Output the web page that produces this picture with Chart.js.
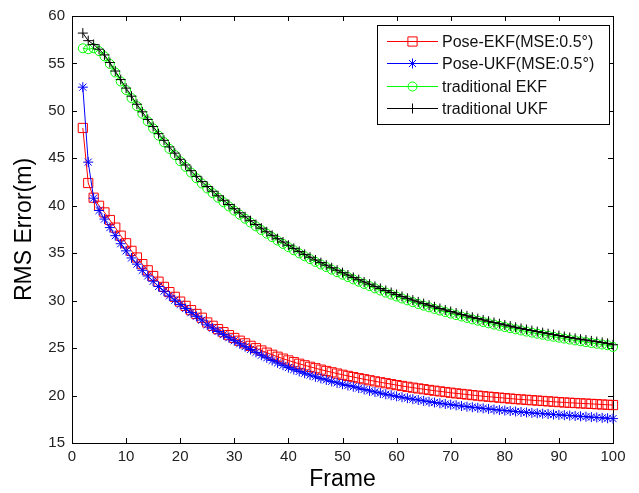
<!DOCTYPE html>
<html>
<head>
<meta charset="utf-8">
<script src="https://cdn.jsdelivr.net/npm/chart.js@4/dist/chart.umd.min.js"></script>
<style>
   html, body { margin: 0; padding: 0; background: #fff; }
   #wrap { width: 639px; height: 493px; }
</style>
</head>
<body>
<div id="wrap"><canvas id="myChart" width="639" height="493"></canvas></div>
<script>
"use strict";

// frame numbers (x) for every series
const frames = [
   2, 3, 4, 5, 6, 7, 8, 9, 10, 11, 12, 13, 14, 15, 16, 17, 18, 19, 20, 21,
   22, 23, 24, 25, 26, 27, 28, 29, 30, 31, 32, 33, 34, 35, 36, 37, 38, 39, 40, 41,
   42, 43, 44, 45, 46, 47, 48, 49, 50, 51, 52, 53, 54, 55, 56, 57, 58, 59, 60, 61,
   62, 63, 64, 65, 66, 67, 68, 69, 70, 71, 72, 73, 74, 75, 76, 77, 78, 79, 80, 81,
   82, 83, 84, 85, 86, 87, 88, 89, 90, 91, 92, 93, 94, 95, 96, 97, 98, 99, 100,
];

const poseEKF = [
   48.2, 42.4, 40.85, 40.0, 39.3, 38.5, 37.7, 36.85, 36.05, 35.25, 34.55, 33.85, 33.2, 32.6, 32.0, 31.45, 30.9, 30.4, 29.9, 29.45,
   29.0, 28.6, 28.2, 27.7, 27.35, 27.0, 26.68, 26.37, 26.07, 25.78, 25.5, 25.24, 24.99, 24.75, 24.52, 24.3, 24.09, 23.89, 23.7, 23.52,
   23.35, 23.19, 23.03, 22.88, 22.73, 22.59, 22.45, 22.32, 22.19, 22.07, 21.95, 21.83, 21.72, 21.61, 21.5, 21.4, 21.3, 21.2, 21.1, 21.01,
   20.92, 20.83, 20.75, 20.67, 20.59, 20.51, 20.44, 20.37, 20.3, 20.23, 20.17, 20.11, 20.05, 19.99, 19.93, 19.88, 19.83, 19.78, 19.73, 19.68,
   19.63, 19.59, 19.55, 19.51, 19.47, 19.43, 19.39, 19.35, 19.31, 19.27, 19.24, 19.21, 19.18, 19.15, 19.12, 19.09, 19.06, 19.03, 19.0,
];

const poseUKF = [
   52.5, 44.6, 40.8, 39.5, 38.6, 37.7, 36.85, 36.0, 35.25, 34.5, 33.85, 33.2, 32.6, 32.05, 31.5, 31.0, 30.5, 30.05, 29.6, 29.17,
   28.74, 28.35, 27.95, 27.45, 27.1, 26.75, 26.42, 26.1, 25.78, 25.46, 25.15, 24.85, 24.55, 24.25, 23.97, 23.7, 23.44, 23.19, 22.95, 22.74,
   22.54, 22.35, 22.16, 21.98, 21.81, 21.65, 21.49, 21.34, 21.19, 21.06, 20.93, 20.79, 20.64, 20.5, 20.38, 20.26, 20.14, 20.03, 19.92, 19.82,
   19.72, 19.62, 19.53, 19.44, 19.35, 19.27, 19.19, 19.11, 19.04, 18.97, 18.9, 18.83, 18.77, 18.71, 18.65, 18.59, 18.53, 18.47, 18.42, 18.37,
   18.32, 18.27, 18.22, 18.17, 18.13, 18.09, 18.05, 18.01, 17.97, 17.93, 17.89, 17.85, 17.81, 17.77, 17.73, 17.69, 17.65, 17.61, 17.57,
];

const tradEKF = [
   56.6, 56.5, 56.6, 56.3, 55.75, 54.95, 54.05, 53.1, 52.2, 51.35, 50.5, 49.7, 48.9, 48.15, 47.4, 46.7, 46.0, 45.35, 44.7, 44.1,
   43.5, 42.9, 42.35, 41.83, 41.33, 40.85, 40.38, 39.93, 39.49, 39.06, 38.64, 38.23, 37.83, 37.44, 37.06, 36.69, 36.33, 35.98, 35.64, 35.31,
   34.99, 34.68, 34.38, 34.09, 33.81, 33.54, 33.27, 33.0, 32.74, 32.49, 32.24, 32.0, 31.76, 31.53, 31.3, 31.07, 30.85, 30.64, 30.43, 30.23,
   30.03, 29.84, 29.65, 29.47, 29.3, 29.13, 28.96, 28.8, 28.64, 28.48, 28.33, 28.18, 28.03, 27.89, 27.75, 27.61, 27.48, 27.35, 27.22, 27.1,
   26.98, 26.86, 26.74, 26.63, 26.52, 26.41, 26.3, 26.2, 26.1, 26.0, 25.9, 25.81, 25.72, 25.63, 25.54, 25.46, 25.38, 25.3, 25.12,
];

const tradUKF = [
   58.2, 57.4, 57.0, 56.5, 55.9, 55.1, 54.2, 53.3, 52.4, 51.55, 50.7, 49.9, 49.1, 48.35, 47.6, 46.9, 46.2, 45.55, 44.9, 44.3,
   43.7, 43.1, 42.55, 42.03, 41.53, 41.05, 40.58, 40.13, 39.69, 39.26, 38.84, 38.43, 38.03, 37.64, 37.26, 36.89, 36.53, 36.18, 35.84, 35.51,
   35.19, 34.88, 34.58, 34.29, 34.01, 33.74, 33.47, 33.21, 32.95, 32.7, 32.45, 32.21, 31.97, 31.74, 31.51, 31.29, 31.07, 30.86, 30.65, 30.45,
   30.25, 30.06, 29.87, 29.69, 29.52, 29.35, 29.18, 29.02, 28.86, 28.7, 28.55, 28.4, 28.25, 28.11, 27.97, 27.83, 27.7, 27.57, 27.44, 27.32,
   27.2, 27.08, 26.96, 26.85, 26.74, 26.63, 26.52, 26.42, 26.32, 26.22, 26.12, 26.03, 25.94, 25.85, 25.76, 25.68, 25.6, 25.5, 25.35,
];

const seriesNames = [
   "Pose-EKF(MSE:0.5°)",
   "Pose-UKF(MSE:0.5°)",
   "traditional EKF",
   "traditional UKF",
];

const FONT = "'Liberation Sans', Arial, sans-serif";

const toPoints = function (values) {
   return values.map((v, i) => ({ x: frames[i], y: v }));
};

const makeSet = function (label, values, color, style, radius, order) {
   return {
      label: label,
      data: toPoints(values),
      borderColor: color,
      borderWidth: 1,
      backgroundColor: "rgba(0,0,0,0)",
      pointStyle: style,
      pointRadius: radius,
      pointBorderColor: color,
      pointBackgroundColor: "rgba(0,0,0,0)",
      pointBorderWidth: 1,
      tension: 0,
      clip: false,
      order: order,
   };
};

// axes box with inward ticks on all four sides, matlab style
const axesBox = {
   id: "axesBox",
   beforeDatasetsDraw(chart) {
      const { ctx, chartArea: a, scales } = chart;
      const tl = 5;
      ctx.save();
      ctx.strokeStyle = "#000";
      ctx.lineWidth = 1;
      ctx.beginPath();
      scales.x.ticks.forEach((t) => {
         const px = Math.round(scales.x.getPixelForValue(t.value)) + 0.5;
         ctx.moveTo(px, a.bottom);
         ctx.lineTo(px, a.bottom - tl);
         ctx.moveTo(px, a.top);
         ctx.lineTo(px, a.top + tl);
      });
      scales.y.ticks.forEach((t) => {
         const py = Math.round(scales.y.getPixelForValue(t.value)) + 0.5;
         ctx.moveTo(a.left, py);
         ctx.lineTo(a.left + tl, py);
         ctx.moveTo(a.right, py);
         ctx.lineTo(a.right - tl, py);
      });
      ctx.stroke();
      ctx.strokeRect(a.left + 0.5, a.top + 0.5, a.right - a.left, a.bottom - a.top);
      ctx.restore();
   },
   afterDatasetsDraw(chart) {
      // legend box in the upper right corner
      const { ctx, chartArea: a } = chart;
      const bx = a.left + 305;
      const by = a.top + 9;
      const bw = 232;
      const bh = 99;
      const rowH = 22.4;
      ctx.save();
      ctx.fillStyle = "#fff";
      ctx.fillRect(bx, by, bw, bh);
      ctx.strokeStyle = "#000";
      ctx.lineWidth = 1;
      ctx.strokeRect(bx + 0.5, by + 0.5, bw, bh);
      ctx.font = "16px " + FONT;
      ctx.textBaseline = "middle";
      chart.data.datasets.forEach((ds, i) => {
         const cy = Math.round(by + 16 + i * rowH) + 0.5;
         ctx.strokeStyle = ds.borderColor;
         ctx.beginPath();
         ctx.moveTo(bx + 10, cy);
         ctx.lineTo(bx + 61, cy);
         ctx.stroke();
         ctx.fillStyle = "rgba(0,0,0,0)";
         Chart.helpers.drawPoint(ctx, {
            pointStyle: ds.pointStyle,
            radius: ds.pointRadius,
            borderWidth: 1,
            rotation: 0,
         }, bx + 35.5, cy);
         ctx.fillStyle = "#111";
         ctx.fillText(ds.label, bx + 65, cy + 1);
      });
      ctx.restore();
   },
};

const ctx = document.getElementById("myChart").getContext("2d");
const myChart = new Chart(ctx, {
   type: "line",
   data: {
      datasets: [
         makeSet(seriesNames[0], poseEKF, "#ff0000", "rect", 6.5, 4),
         makeSet(seriesNames[1], poseUKF, "#0000ff", "star", 5, 3),
         makeSet(seriesNames[2], tradEKF, "#00ff00", "circle", 4.5, 2),
         makeSet(seriesNames[3], tradUKF, "#000000", "cross", 5, 1),
      ],
   },
   options: {
      responsive: false,
      animation: false,
      devicePixelRatio: 1,
      layout: {
         padding: { top: 16, right: 26, left: 0, bottom: 0 },
      },
      plugins: {
         legend: { display: false },
         tooltip: { enabled: false },
      },
      scales: {
         x: {
            type: "linear",
            min: 0,
            max: 100,
            grid: { display: false, drawTicks: false },
            border: { display: false },
            ticks: {
               stepSize: 10,
               padding: 5,
               color: "#222",
               font: { family: FONT, size: 15 },
            },
            title: {
               display: true,
               text: "Frame",
               color: "#000",
               font: { family: FONT, size: 23 },
               padding: { top: 0, bottom: 0 },
            },
            afterFit: (scale) => {
               scale.height = 50;
            },
         },
         y: {
            type: "linear",
            min: 15,
            max: 60,
            grid: { display: false, drawTicks: false },
            border: { display: false },
            ticks: {
               stepSize: 5,
               padding: 7,
               color: "#222",
               font: { family: FONT, size: 15 },
            },
            title: {
               display: true,
               text: "RMS Error(m)",
               color: "#000",
               font: { family: FONT, size: 23 },
               padding: { top: 11, bottom: 0 },
            },
            afterFit: (scale) => {
               scale.width = 72;
            },
         },
      },
   },
   plugins: [axesBox],
});
</script>
</body>
</html>
